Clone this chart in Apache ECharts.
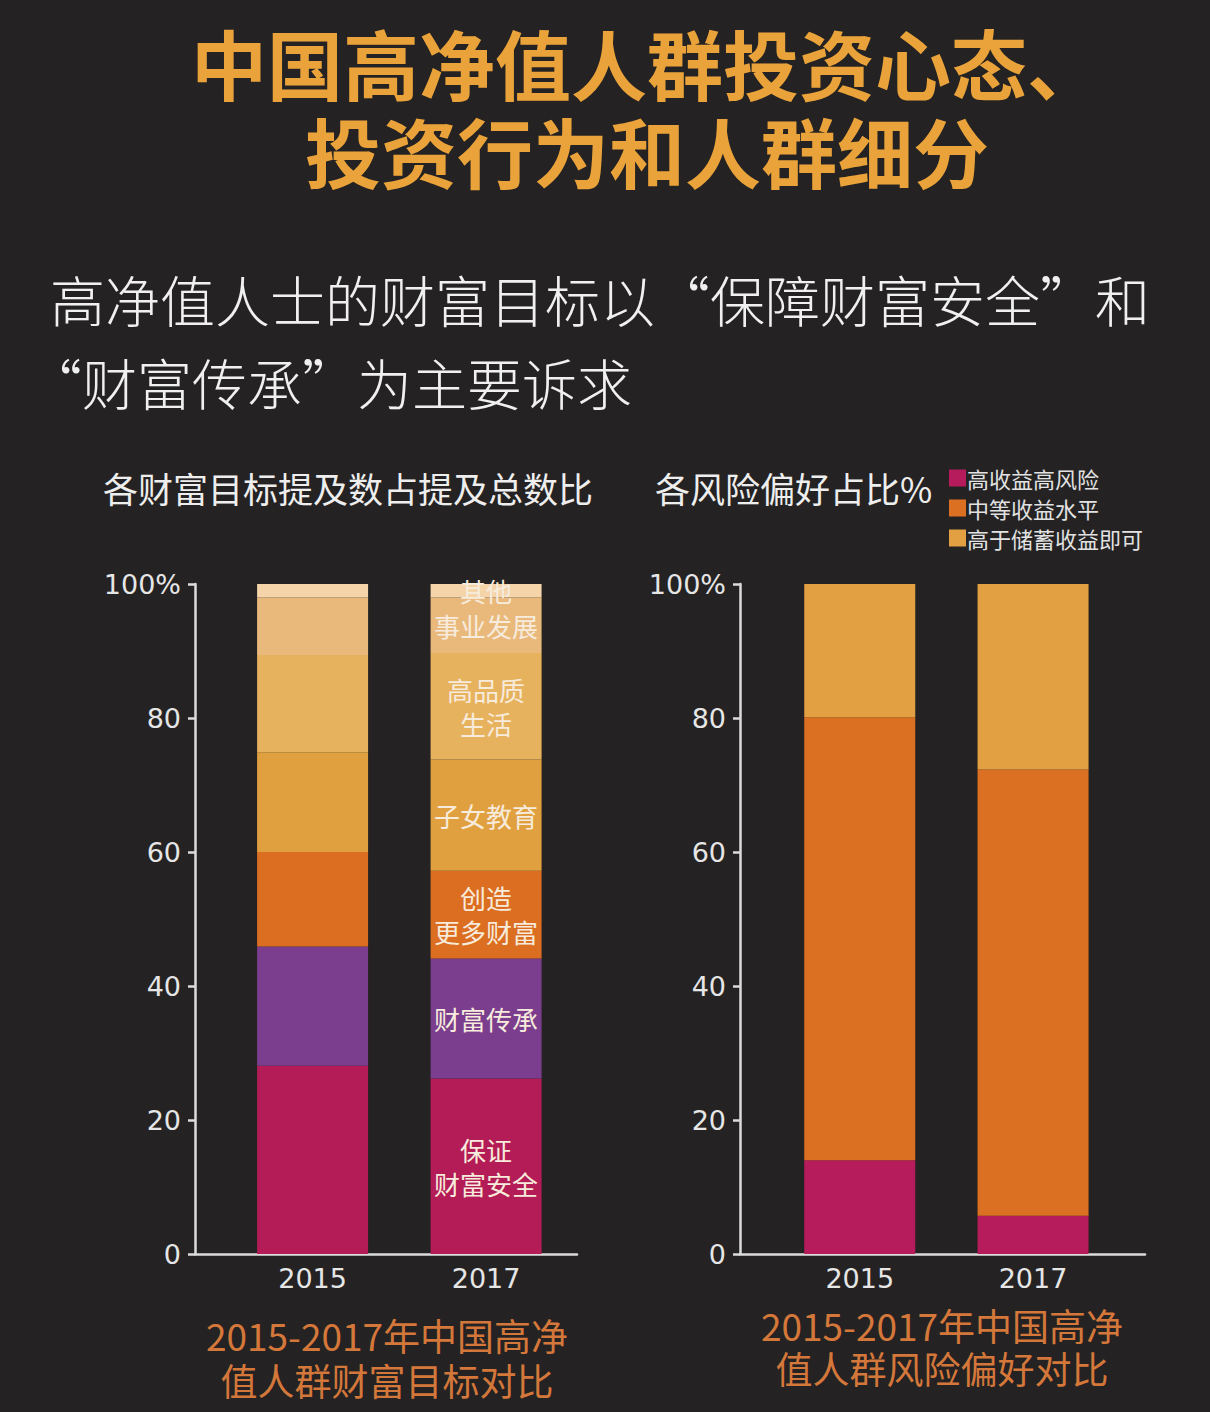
<!DOCTYPE html>
<html>
<head>
<meta charset="utf-8">
<script src="https://cdn.jsdelivr.net/npm/echarts@6/dist/echarts.min.js"></script>
<style>
html,body{margin:0;padding:0;background:#242222;}
#chart{width:1210px;height:1412px;}
</style>
</head>
<body>
<div id="chart"></div>
<script>
// ---- data ----
const years = ['2015', '2017'];
const goalNames = ['保证财富安全', '财富传承', '创造更多财富', '子女教育', '高品质生活', '事业发展', '其他'];
const goalLabels = ['保证\n财富安全', '财富传承', '创造\n更多财富', '子女教育', '高品质\n生活', '事业发展', '其他'];
const goal2015 = [28.1, 17.8, 14.1, 14.9, 14.5, 8.6, 2.0];
const goal2017 = [26.2, 17.9, 13.1, 16.6, 15.9, 8.3, 2.0];
const riskNames = ['高收益高风险', '中等收益水平', '高于储蓄收益即可'];
const risk2015 = [14.0, 66.1, 19.9];
const risk2017 = [5.7, 66.6, 27.7];
const yTickValues = [0, 20, 40, 60, 80, 100];

// ---- styles ----
const goalColors = ['#b31c56', '#7b3d8d', '#db6e21', '#e1a03f', '#e7b25e', '#e9b97c', '#f4d4a8'];
const riskColors = ['#b61c5b', '#dc7022', '#e3a042'];
const CJK = '"Noto Sans CJK SC", "Noto Sans", sans-serif';
const NUM = '"DejaVu Sans", sans-serif';
const axisColor = '#dcdcdc';

const chart = echarts.init(document.getElementById('chart'), null, { renderer: 'svg' });

// position of each year on the value-type x axis: 1, 2
const yearPos = years.map(function (_, i) { return i + 1; });

function xAxisFor(gridIndex, min, max) {
  return {
    gridIndex, type: 'value', min, max,
    axisLine: { show: true, onZero: false, lineStyle: { color: axisColor, width: 2.5 } },
    axisTick: { show: false },
    splitLine: { show: false },
    axisLabel: {
      color: '#e6e6e6', fontFamily: NUM, fontSize: 27, margin: 11,
      showMinLabel: false, showMaxLabel: false,
      formatter: function (v) {
        const r = Math.round(v);
        if (Math.abs(v - r) < 1e-6 && years[r - 1] !== undefined) return years[r - 1];
        return '';
      }
    }
  };
}
function yAxisFor(gridIndex) {
  return {
    gridIndex, type: 'value', min: 0, max: 100, interval: 20,
    axisLine: { show: true, lineStyle: { color: axisColor, width: 2.5 } },
    axisTick: { show: true, length: 7, lineStyle: { color: axisColor, width: 2.5 } },
    splitLine: { show: false },
    axisLabel: {
      color: '#e6e6e6', fontFamily: NUM, fontSize: 27, margin: 14,
      formatter: function (v) { return v === yTickValues[yTickValues.length - 1] ? v + '%' : String(v); }
    }
  };
}

const series = [];
goalNames.forEach(function (name, i) {
  series.push({
    name, type: 'bar', stack: 'goal', xAxisIndex: 0, yAxisIndex: 0,
    encode: { x: 1, y: 0 },
    barWidth: 111,
    itemStyle: { color: goalColors[i] },
    emphasis: { disabled: true },
    data: [
      { value: [goal2015[i], yearPos[0]] },
      {
        value: [goal2017[i], yearPos[1]],
        label: {
          show: true, position: 'inside', formatter: goalLabels[i],
          color: '#f7ebdc', fontFamily: CJK, fontSize: 26, lineHeight: 34
        }
      }
    ]
  });
});
riskNames.forEach(function (name, i) {
  series.push({
    name, type: 'bar', stack: 'risk', xAxisIndex: 1, yAxisIndex: 1,
    encode: { x: 1, y: 0 },
    barWidth: 111,
    itemStyle: { color: riskColors[i] },
    emphasis: { disabled: true },
    data: [[risk2015[i], yearPos[0]], [risk2017[i], yearPos[1]]]
  });
});

function txt(text, x, y, size, color, opts) {
  return {
    type: 'text', x, y, silent: true,
    style: {
      text, fill: color, font: (opts && opts.weight ? opts.weight + ' ' : '') + size + 'px ' + CJK,
      textAlign: (opts && opts.align) || 'center', textVerticalAlign: 'middle',
      lineHeight: Math.round(size * 1.08)
    }
  };
}

chart.setOption({
  backgroundColor: '#242222',
  animation: false,
  grid: [
    { left: 195, top: 584, width: 382, height: 670, containLabel: false },
    { left: 740, top: 584, width: 405, height: 670, containLabel: false }
  ],
  xAxis: [xAxisFor(0, 0.3222, 2.524), xAxisFor(1, 0.309, 2.646)],
  yAxis: [yAxisFor(0), yAxisFor(1)],
  legend: {
    data: riskNames, orient: 'vertical', left: 944, top: 462,
    icon: 'rect', itemWidth: 17, itemHeight: 17, itemGap: 8,
    selectedMode: false,
    textStyle: { color: '#e2e2e2', fontFamily: CJK, fontSize: 22, lineHeight: 20, padding: [0, 0, 0, -4] }
  },
  graphic: [
    txt('中国高净值人群投资心态、', 647, 62, 76, '#e9a33a', { weight: 'bold' }),
    txt('投资行为和人群细分', 647, 150, 76, '#e9a33a', { weight: 'bold' }),
    txt('高净值人士的财富目标以“保障财富安全”和', 50, 298, 55, '#f0f0f0', { align: 'left', weight: 300 }),
    txt('“财富传承”为主要诉求', 27, 381, 55, '#f0f0f0', { align: 'left', weight: 300 }),
    txt('各财富目标提及数占提及总数比', 348, 487, 35, '#eeeeee'),
    txt('各风险偏好占比%', 655, 487, 35, '#eeeeee', { align: 'left' }),
    txt('2015-2017年中国高净', 387, 1335, 37, '#d4773a'),
    txt('值人群财富目标对比', 387, 1380, 37, '#d4773a'),
    txt('2015-2017年中国高净', 942, 1325, 37, '#d4773a'),
    txt('值人群风险偏好对比', 942, 1368, 37, '#d4773a')
  ],
  series
});
</script>
</body>
</html>
